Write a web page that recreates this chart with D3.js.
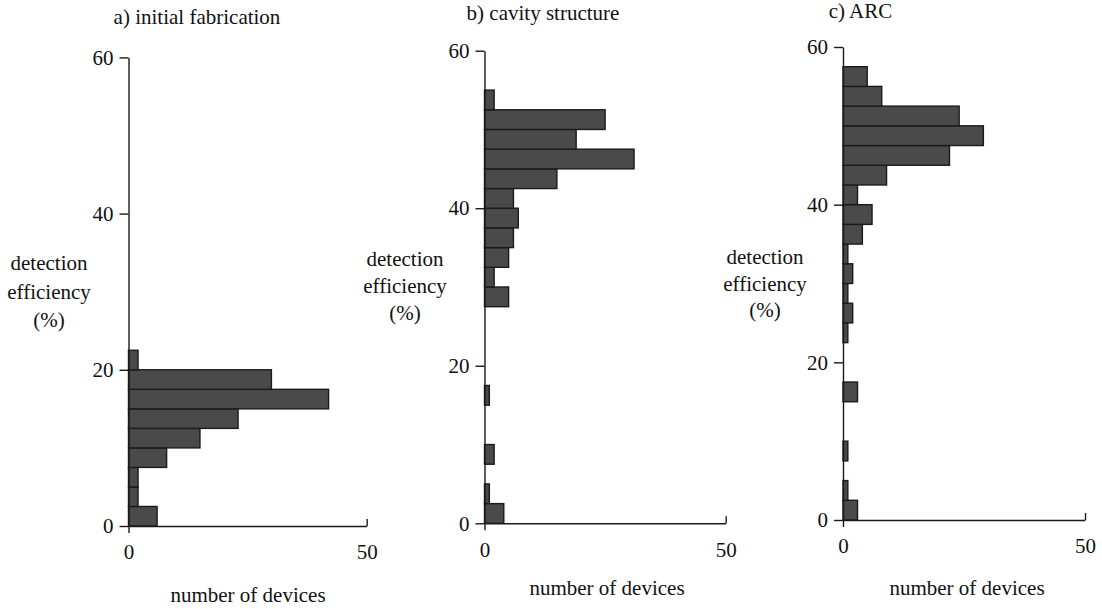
<!DOCTYPE html>
<html>
<head>
<meta charset="utf-8">
<script src="https://cdn.jsdelivr.net/npm/d3@7"></script>
<style>
  html, body { margin: 0; padding: 0; background: #fff; }
  svg { display: block; }
  svg text { font-family: "Liberation Serif", "Times New Roman", Times, serif !important; fill: #111; }
</style>
</head>
<body>
<svg id="chart" width="1102" height="609"></svg>
<script>
// Detection-efficiency bins (%), lower edge of each 2.5 % bin
const binEdges = [0, 2.5, 5, 7.5, 10, 12.5, 15, 17.5, 20, 22.5, 25, 27.5,
                  30, 32.5, 35, 37.5, 40, 42.5, 45, 47.5, 50, 52.5, 55, 57.5];
const binWidth = 2.5;

// Number of devices in each bin
const countsInitial = [6, 2, 2, 8, 15, 23, 42, 30, 2, 0, 0, 0,
                       0, 0, 0, 0, 0, 0, 0, 0, 0, 0, 0, 0];
const countsCavity  = [4, 1, 0, 2, 0, 0, 1, 0, 0, 0, 0, 5,
                       2, 5, 6, 7, 6, 15, 31, 19, 25, 2, 0, 0];
const countsARC     = [3, 1, 0, 1, 0, 0, 3, 0, 0, 1, 2, 1,
                       2, 1, 4, 6, 3, 9, 22, 29, 24, 8, 5, 0];

const panelTitles = ["a) initial fabrication", "b) cavity structure", "c) ARC"];
const yTicks = [0, 20, 40, 60];
const xTicks = [0, 50];
const yLabelLines = ["detection", "efficiency", "(%)"];
const xLabel = "number of devices";

// Panel geometry (pixels)
const panels = [
  { counts: countsInitial, x0: 128.5, x50: 366.7, yTop: 57.4, yBot: 526,
    title: [197, 17], ylab: [49, 263, 28.5], xlab: [248, 595] },
  { counts: countsCavity, x0: 484.5, x50: 725.7, yTop: 50.7, yBot: 523.3,
    title: [543, 13], ylab: [405, 259, 27], xlab: [607, 588] },
  { counts: countsARC, x0: 843, x50: 1085, yTop: 47, yBot: 520,
    title: [860.5, 11], ylab: [765, 256.7, 26.7], xlab: [967, 588] }
];

const svg = d3.select("#chart");
const fontSize = 21;
const serif = "'Liberation Serif', 'Times New Roman', Times, serif";

panels.forEach((p, i) => {
  const x = d3.scaleLinear().domain([0, 50]).range([p.x0, p.x50]);
  const y = d3.scaleLinear().domain([0, 60]).range([p.yBot, p.yTop]);
  const g = svg.append("g");

  // bars
  const bins = binEdges.map((lo, k) => ({ lo, n: p.counts[k] })).filter(d => d.n > 0);
  g.selectAll("rect.bar").data(bins).join("rect")
    .attr("class", "bar")
    .attr("x", x(0))
    .attr("width", d => x(d.n) - x(0))
    .attr("y", d => y(d.lo + binWidth))
    .attr("height", d => y(d.lo) - y(d.lo + binWidth))
    .attr("fill", "#4a4a4a")
    .attr("stroke", "#1a1a1a")
    .attr("stroke-width", 1.4);

  // y axis
  const ya = g.append("g")
    .attr("transform", `translate(${x(0)},0)`)
    .call(d3.axisLeft(y).tickValues(yTicks).tickFormat(d3.format("d"))
      .tickSize(9).tickSizeOuter(0).tickPadding(6));
  ya.attr("font-family", null).attr("font-size", null);
  ya.selectAll("text").style("font-family", serif).style("font-size", fontSize + "px").attr("fill", "#111");

  // x axis: 0 tick points down, 50 tick points up
  const xa = g.append("g")
    .attr("transform", `translate(0,${y(0)})`)
    .call(d3.axisBottom(x).tickValues(xTicks).tickFormat(d3.format("d"))
      .tickSize(7).tickSizeOuter(0));
  xa.attr("font-family", null).attr("font-size", null);
  xa.selectAll(".tick line").attr("y2", d => d === 0 ? 7 : -7);
  xa.selectAll("text")
    .attr("y", 26).attr("dy", "0.35em")
    .style("font-family", serif).style("font-size", fontSize + "px").attr("fill", "#111");

  [ya, xa].forEach(a => {
    a.selectAll("path, line").attr("stroke", "#1a1a1a").attr("stroke-width", 1.4);
  });

  // title
  g.append("text")
    .attr("x", p.title[0]).attr("y", p.title[1]).attr("dy", "0.35em")
    .attr("text-anchor", "middle")
    .style("font-family", serif).style("font-size", fontSize + "px")
    .text(panelTitles[i]);

  // y label (three lines)
  g.append("g").selectAll("text").data(yLabelLines).join("text")
    .attr("x", p.ylab[0])
    .attr("y", (d, k) => p.ylab[1] + k * p.ylab[2])
    .attr("dy", "0.35em")
    .attr("text-anchor", "middle")
    .style("font-family", serif).style("font-size", fontSize + "px")
    .text(d => d);

  // x label
  g.append("text")
    .attr("x", p.xlab[0]).attr("y", p.xlab[1]).attr("dy", "0.35em")
    .attr("text-anchor", "middle")
    .style("font-family", serif).style("font-size", fontSize + "px")
    .text(xLabel);
});
</script>
</body>
</html>
